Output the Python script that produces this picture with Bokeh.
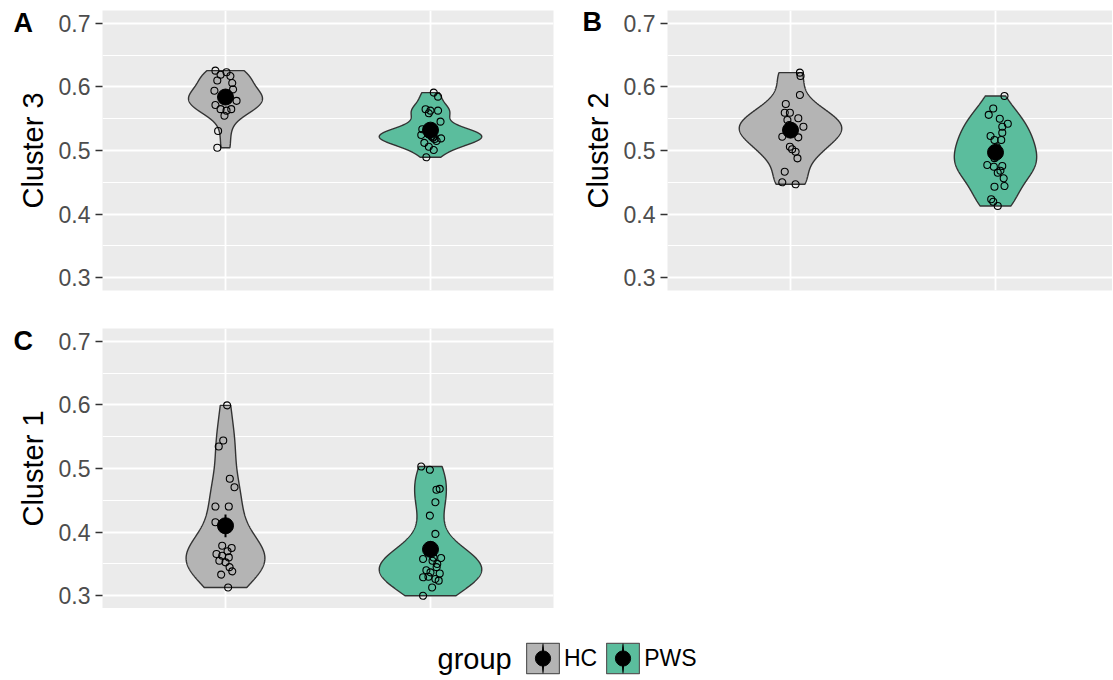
import numpy as np
from bokeh.plotting import figure
from bokeh.models import FixedTicker, Label, Legend, LegendItem, Range1d
from bokeh.layouts import column, row
from bokeh.embed import file_html
from bokeh.resources import INLINE

groups = ["HC", "PWS"]
group_pos = [1, 2]
fills = ["#B4B4B4", "#5BBD9D"]

# ---- Cluster 3 (panel A) ----
c3_hc = [0.6255, 0.619, 0.623, 0.617, 0.610, 0.606, 0.596, 0.594, 0.588, 0.584, 0.581,
         0.586, 0.579, 0.578, 0.5715, 0.565, 0.5626, 0.565, 0.5547, 0.5307, 0.5044]
c3_hc_dx = [-0.049, -0.024, 0.005, 0.024, -0.04, 0.033, 0.037, -0.054, 0.01, -0.012, 0.008,
            0.0, -0.005, 0.054, -0.049, -0.024, 0.005, 0.028, -0.005, -0.036, -0.04]
c3_pws = [0.591, 0.5846, 0.5648, 0.5626, 0.5626, 0.5585, 0.5453, 0.5333, 0.5244, 0.5217, 0.519,
          0.506, 0.5008, 0.4893, 0.530, 0.526, 0.522, 0.528, 0.520, 0.525, 0.515, 0.512, 0.518]
c3_pws_dx = [0.016, 0.037, -0.024, 0.0, 0.037, -0.008, 0.049, -0.04, -0.045, 0.016, 0.052,
             -0.008, 0.016, -0.02, 0.01, -0.01, 0.005, -0.003, 0.012, -0.006, 0.03, -0.03, 0.02]
c3_means = [0.584, 0.532]

# ---- Cluster 2 (panel B) ----
c2_hc = [0.6223, 0.617, 0.5873, 0.573, 0.5594, 0.5594, 0.548, 0.5506, 0.5374, 0.5217, 0.5207,
         0.506, 0.5019, 0.4981, 0.4877, 0.4667, 0.45, 0.4469, 0.535, 0.530, 0.528, 0.54]
c2_hc_dx = [0.046, 0.049, 0.046, -0.023, -0.028, -0.003, -0.015, 0.038, 0.063, -0.04, 0.038,
            -0.003, 0.008, 0.025, 0.034, -0.028, -0.04, 0.025, 0.01, -0.01, 0.004, -0.006]
c2_pws = [0.5857, 0.5660, 0.5560, 0.5500, 0.5420, 0.5374, 0.528, 0.5228, 0.5165, 0.5165, 0.4772,
          0.4745, 0.4756, 0.4682, 0.465, 0.4563, 0.443, 0.4441, 0.4233, 0.4127, 0.4195,
          0.505, 0.498, 0.492, 0.50, 0.488]
c2_pws_dx = [0.044, -0.011, -0.033, 0.021, 0.06, 0.033, 0.033, -0.024, -0.005, 0.028, -0.04,
             -0.008, 0.033, 0.024, 0.011, 0.04, -0.005, 0.044, -0.021, 0.011, -0.011,
             0.008, -0.01, 0.005, 0.0, -0.005]
c2_means = [0.532, 0.497]

# ---- Cluster 1 (panel C) ----
c1_hc = [0.5992, 0.544, 0.5346, 0.4838, 0.4706, 0.4402, 0.4402, 0.4156, 0.3787, 0.3656, 0.363,
         0.3603, 0.3525, 0.3384, 0.3333, 0.3131, 0.37, 0.355, 0.345, 0.375]
c1_hc_dx = [0.008, -0.011, -0.033, 0.021, 0.044, -0.049, 0.016, -0.049, -0.016, -0.044, -0.016,
            0.016, 0.0, 0.033, -0.021, 0.013, 0.01, -0.03, 0.02, 0.03]
c1_pws = [0.5031, 0.498, 0.4665, 0.468, 0.447, 0.426, 0.3972, 0.3578, 0.3594, 0.35, 0.3368,
          0.329, 0.3264, 0.3238, 0.3131, 0.30, 0.345, 0.34, 0.355, 0.335, 0.37, 0.33, 0.36]
c1_pws_dx = [-0.045, -0.003, 0.029, 0.045, 0.024, -0.003, 0.024, -0.036, 0.052, 0.033, 0.0,
             -0.036, 0.024, 0.04, 0.008, -0.036, 0.03, -0.02, 0.01, 0.045, 0.0, -0.01, 0.015]
c1_means = [0.410, 0.373]

y_ticks = [0.3, 0.4, 0.5, 0.6, 0.7]
y_minor = [0.35, 0.45, 0.55, 0.65]
panel_tags = ["A", "B", "C"]
legend_title = "group"

FONT = "Liberation Sans"
PX = 205.0  # pixels per category unit
W, H = 1112, 680


def density(vals, n=512):
    v = np.asarray(vals, dtype=float)
    sd = v.std(ddof=1)
    q75, q25 = np.percentile(v, [75, 25])
    iqr = q75 - q25
    lo = min(sd, iqr / 1.34) if iqr > 0 else sd
    bw = 0.9 * lo * len(v) ** -0.2
    ys = np.linspace(v.min(), v.max(), n)
    d = np.exp(-0.5 * ((ys[:, None] - v[None, :]) / bw) ** 2).sum(1) / (len(v) * bw * np.sqrt(2 * np.pi))
    return ys, d


def make_panel(ytitle, series, offsets, means, frame_w, bl, br, bt, bb):
    x_end = 0.4 + frame_w / PX
    p = figure(frame_width=frame_w, frame_height=280, x_range=Range1d(0.4, x_end),
               y_range=Range1d(0.28, 0.72), output_backend="svg", toolbar_location=None,
               x_axis_location=None, min_border_left=bl, min_border_right=br,
               min_border_top=bt, min_border_bottom=bb)
    p.background_fill_color = "#EBEBEB"
    p.border_fill_color = "white"
    p.outline_line_color = None

    ticker = FixedTicker(ticks=y_ticks, minor_ticks=y_minor)
    ax = p.yaxis[0]
    ax.ticker = ticker
    ax.axis_label = ytitle
    ax.axis_label_text_font = FONT
    ax.axis_label_text_font_size = "29px"
    ax.axis_label_text_font_style = "normal"
    ax.axis_label_text_color = "black"
    ax.axis_label_standoff = 7
    ax.major_label_text_font = FONT
    ax.major_label_text_font_size = "23px"
    ax.major_label_text_color = "#4D4D4D"
    ax.major_label_standoff = 5
    ax.axis_line_color = None
    ax.major_tick_line_color = "#333333"
    ax.major_tick_line_width = 1.3
    ax.major_tick_out = 7
    ax.major_tick_in = 0
    ax.minor_tick_line_color = None

    p.ygrid.ticker = ticker
    p.ygrid.grid_line_color = "white"
    p.ygrid.grid_line_width = 1.8
    p.ygrid.minor_grid_line_color = "white"
    p.ygrid.minor_grid_line_width = 1.0
    p.xgrid.ticker = FixedTicker(ticks=group_pos)
    p.xgrid.grid_line_color = "white"
    p.xgrid.grid_line_width = 1.8

    dens = [density(v) for v in series]
    dmax = max(d.max() for _, d in dens)
    for (ys, d), pos, col in zip(dens, group_pos, fills):
        hw = 0.25 * d / dmax
        xs = np.concatenate([pos + hw, (pos - hw)[::-1]])
        yy = np.concatenate([ys, ys[::-1]])
        p.patch(xs, yy, fill_color=col, line_color="#333333", line_width=1.4)

    for v, dx, pos in zip(series, offsets, group_pos):
        p.scatter(np.array(dx) + pos, v, size=7, fill_color=None,
                  line_color="black", line_width=1.1)

    for v, m, pos in zip(series, means, group_pos):
        arr = np.asarray(v)
        se = arr.std(ddof=1) / np.sqrt(len(arr))
        p.segment([pos], [m - se], [pos], [m + se], line_color="black", line_width=2)
        p.scatter([pos], [m], size=16, color="black")
    return p


pA = make_panel("Cluster 3", [c3_hc, c3_pws], [c3_hc_dx, c3_pws_dx], c3_means, 451, 102, 7, 10, 28)
pB = make_panel("Cluster 2", [c2_hc, c2_pws], [c2_hc_dx, c2_pws_dx], c2_means, 445, 107, 0, 10, 28)
pC = make_panel("Cluster 1", [c1_hc, c1_pws], [c1_hc_dx, c1_pws_dx], c1_means, 451, 102, 7, 10, 0)

# ---- legend strip (data units == pixels) ----
LW, LH = W, 72
lf = figure(width=LW, height=LH, output_backend="svg", toolbar_location=None,
            x_axis_location=None, y_axis_location=None, min_border=0,
            x_range=Range1d(0, LW), y_range=Range1d(0, LH))
lf.outline_line_color = None
lf.xgrid.visible = False
lf.ygrid.visible = False
lf.background_fill_color = "white"
lf.border_fill_color = "white"
items = []
for g, col in zip(groups, fills):
    # legend-only renderers, kept outside the visible range
    r1 = lf.quad(left=[-300], right=[-260], bottom=[-300], top=[-260],
                 fill_color=col, line_color="#5A5A5A", line_width=1.2)
    r2 = lf.ellipse(x=[-280], y=[-280], width=2.6, height=32, fill_color="black", line_color=None)
    r3 = lf.scatter([-280], [-280], size=13, color="black")
    items.append(LegendItem(label=g, renderers=[r1, r2, r3]))
leg = Legend(items=items, orientation="horizontal", location=(522, 3),
             label_text_font=FONT, label_text_font_size="23px", label_text_color="black",
             glyph_width=41, glyph_height=38, label_standoff=1, spacing=5,
             padding=0, margin=0, border_line_color=None, background_fill_alpha=0)
lf.add_layout(leg)
lf.add_layout(Label(x=437, y=22, x_units="data", y_units="data", text=legend_title,
                    text_font=FONT, text_font_size="29px", text_color="black",
                    text_align="left", text_baseline="middle"))

# ---- transparent overlay carrying the panel tags (data units == pixels) ----
ov = figure(width=W, height=H, output_backend="svg", toolbar_location=None,
            x_axis_location=None, y_axis_location=None, min_border=0,
            x_range=Range1d(0, W), y_range=Range1d(0, H))
ov.outline_line_color = None
ov.xgrid.visible = False
ov.ygrid.visible = False
ov.background_fill_color = None
ov.border_fill_color = None
ov.margin = (-H, 0, 0, 0)
tag_x = [13, 582, 13]
tag_y = [H - 22, H - 21, H - 340]
for t, tx, ty in zip(panel_tags, tag_x, tag_y):
    ov.add_layout(Label(x=tx, y=ty, x_units="data", y_units="data", text=t,
                        text_font=FONT, text_font_style="bold", text_font_size="27px",
                        text_align="left", text_baseline="alphabetic", text_color="black"))

layout = column(row(pA, pB), row(pC), lf, ov)
open("out.html", "w").write(file_html(layout, INLINE))
